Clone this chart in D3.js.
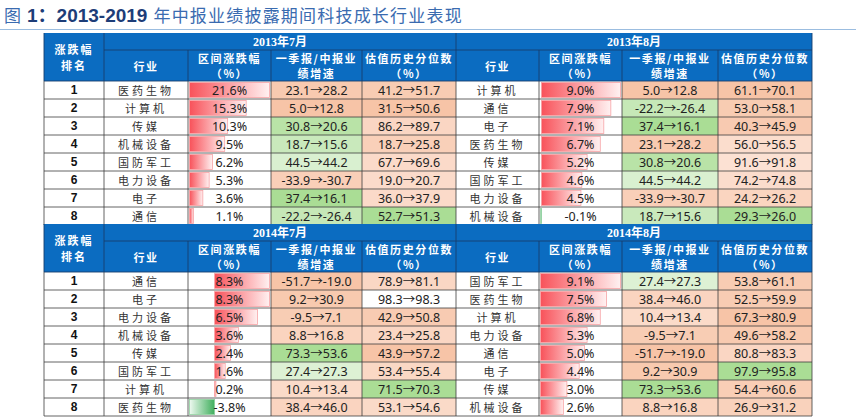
<!DOCTYPE html>
<html>
<head>
<meta charset="utf-8">
<script src="https://cdn.jsdelivr.net/npm/d3@7"></script>
<style>
body{margin:0;background:#fff;}
svg{display:block;}
</style>
</head>
<body>
<div id="chart"></div>
<script>
// ---- data ----
const ranks = [1, 2, 3, 4, 5, 6, 7, 8];
const periods = ['2013年7月', '2013年8月', '2014年7月', '2014年8月'];
const columnTitles = [['行业'], ['区间涨跌幅', '（%）'], ['一季报/中报业', '绩增速'], ['估值历史分位数', '（%）']];
const rankTitle = ['涨跌幅', '排名'];

const industries_1307 = ['医药生物', '计算机', '传媒', '机械设备', '国防军工', '电力设备', '电子', '通信'];
const change_1307 = [21.6, 15.3, 10.3, 9.5, 6.2, 5.3, 3.6, 1.1];
const growth_1307 = [[23.1, 28.2], [5.0, 12.8], [30.8, 20.6], [18.7, 15.6], [44.5, 44.2], [-33.9, -30.7], [37.4, 16.1], [-22.2, -26.4]];
const valuation_1307 = [[41.2, 51.7], [31.5, 50.6], [86.2, 89.7], [18.7, 25.8], [67.7, 69.6], [19.0, 20.7], [36.0, 37.9], [52.7, 51.3]];

const industries_1308 = ['计算机', '通信', '电子', '医药生物', '传媒', '国防军工', '电力设备', '机械设备'];
const change_1308 = [9.0, 7.9, 7.1, 6.7, 5.2, 4.6, 4.5, -0.1];
const growth_1308 = [[5.0, 12.8], [-22.2, -26.4], [37.4, 16.1], [23.1, 28.2], [30.8, 20.6], [44.5, 44.2], [-33.9, -30.7], [18.7, 15.6]];
const valuation_1308 = [[61.1, 70.1], [53.0, 58.1], [40.3, 45.9], [56.0, 56.5], [91.6, 91.8], [74.2, 74.8], [24.2, 26.2], [29.3, 26.0]];

const industries_1407 = ['通信', '电子', '电力设备', '机械设备', '传媒', '国防军工', '计算机', '医药生物'];
const change_1407 = [8.3, 8.3, 6.5, 3.6, 2.4, 1.6, 0.2, -3.8];
const growth_1407 = [[-51.7, -19.0], [9.2, 30.9], [-9.5, 7.1], [8.8, 16.8], [73.3, 53.6], [27.4, 27.3], [10.4, 13.4], [38.4, 46.0]];
const valuation_1407 = [[78.9, 81.1], [98.3, 98.3], [42.9, 50.8], [23.4, 25.8], [43.9, 57.2], [53.4, 55.4], [71.5, 70.3], [53.1, 54.6]];

const industries_1408 = ['国防军工', '医药生物', '计算机', '电力设备', '通信', '电子', '传媒', '机械设备'];
const change_1408 = [9.1, 7.5, 6.8, 5.3, 5.0, 4.4, 3.0, 2.6];
const growth_1408 = [[27.4, 27.3], [38.4, 46.0], [10.4, 13.4], [-9.5, 7.1], [-51.7, -19.0], [9.2, 30.9], [73.3, 53.6], [8.8, 16.8]];
const valuation_1408 = [[53.8, 61.1], [52.5, 59.9], [67.3, 80.9], [49.6, 58.2], [80.8, 83.3], [97.9, 95.8], [54.4, 60.6], [26.9, 31.2]];

const panels = [
	{period: periods[0], industries: industries_1307, change: change_1307, growth: growth_1307, valuation: valuation_1307},
	{period: periods[1], industries: industries_1308, change: change_1308, growth: growth_1308, valuation: valuation_1308},
	{period: periods[2], industries: industries_1407, change: change_1407, growth: growth_1407, valuation: valuation_1407},
	{period: periods[3], industries: industries_1408, change: change_1408, growth: growth_1408, valuation: valuation_1408}
];

// ---- layout ----
const W = 864, H = 418;
const edges = [44, 104, 188, 271, 362, 456, 539, 622, 718, 812];
const sectionTop = [33, 224];
const periodH = 17, headH = 31, rowH = 18;
const BLUE = '#0b6cc1';
const CJK = "'Noto Sans CJK SC','Noto Sans',sans-serif";
const NUM = "'Noto Sans','Noto Sans CJK SC',sans-serif";

const svg = d3.select('#chart').append('svg')
	.attr('width', W)
	.attr('height', H);

//gradients for data bars
const defs = svg.append('defs');
const gPos = defs.append('linearGradient').attr('id', 'barPos');
gPos.append('stop').attr('offset', '0%').attr('stop-color', '#f8525a');
gPos.append('stop').attr('offset', '100%').attr('stop-color', '#fff1f1');
const gNeg = defs.append('linearGradient').attr('id', 'barNeg');
gNeg.append('stop').attr('offset', '0%').attr('stop-color', '#eef9f0');
gNeg.append('stop').attr('offset', '100%').attr('stop-color', '#3fae5c');

//title
const title = svg.append('text')
	.attr('x', 4)
	.attr('y', 22)
	.style('font-family', CJK)
	.style('font-size', '17px');
title.append('tspan').text('图').attr('fill', '#3a6bb0');
title.append('tspan').text('1：2013-2019').attr('dx', 6).attr('fill', '#1d3d78').style('font-weight', 'bold')
	.style('font-family', "'Liberation Sans','Noto Sans CJK SC',sans-serif").style('font-size', '19px');
title.append('tspan').text('年中报业绩披露期间科技成长行业表现').attr('dx', 6).attr('fill', '#3a6bb0')
	.style('letter-spacing', '1.2px');

svg.append('line')
	.attr('x1', 0).attr('x2', 856)
	.attr('y1', 29.5).attr('y2', 29.5)
	.attr('stroke', '#9bbde0')
	.attr('stroke-width', 1.2);

const fmt = v => v.toFixed(1);

function fillScale(pairs){
	const diffs = pairs.map(p => p[1] - p[0]);
	const maxPos = d3.max(diffs.filter(d => d > 0)) || 1;
	const maxNeg = d3.max(diffs.filter(d => d < 0).map(d => -d)) || 1;
	const pos = d3.scalePow().exponent(0.4).domain([0, maxPos]).range(['#fde9df', '#f7c4a7']).clamp(true);
	const neg = d3.scalePow().exponent(0.4).domain([0, maxNeg]).range(['#e4f4dd', '#aadd95']).clamp(true);
	return d => d > 0 ? pos(d) : d < 0 ? neg(-d) : '#ffffff';
}

sectionTop.forEach((top, s) => {
	const headBottom = top + periodH + headH;
	const y = d3.scaleBand().domain(ranks).range([headBottom, headBottom + rowH * ranks.length]);
	const sec = svg.append('g').attr('class', 'section');

	//rank column header
	sec.append('rect')
		.attr('x', edges[0]).attr('y', top)
		.attr('width', edges[1] - edges[0]).attr('height', periodH + headH)
		.attr('fill', BLUE);
	sec.selectAll('.rankTitle')
		.data(rankTitle)
		.enter().append('text')
		.attr('class', 'rankTitle')
		.attr('x', (edges[0] + edges[1]) / 2)
		.attr('y', (d, i) => top + (periodH + headH) / 2 + (i - 0.5) * 16)
		.attr('text-anchor', 'middle')
		.attr('dominant-baseline', 'central')
		.attr('fill', '#fff')
		.style('font-family', CJK).style('font-size', '11px').style('font-weight', 'bold')
		.style('letter-spacing', '2px')
		.text(d => d);

	//rank cells
	sec.selectAll('.rank')
		.data(ranks)
		.enter().append('text')
		.attr('class', 'rank')
		.attr('x', (edges[0] + edges[1]) / 2)
		.attr('y', d => y(d) + rowH / 2)
		.attr('text-anchor', 'middle')
		.attr('dominant-baseline', 'central')
		.attr('fill', '#111')
		.style('font-family', "'Liberation Sans',sans-serif").style('font-size', '12px').style('font-weight', 'bold')
		.text(d => d);

	[0, 1].forEach(b => {
		const p = panels[s * 2 + b];
		const cx = edges.slice(1 + b * 4, 6 + b * 4);
		const g = sec.append('g');

		//period row
		g.append('rect')
			.attr('x', cx[0]).attr('y', top)
			.attr('width', cx[4] - cx[0]).attr('height', periodH + headH)
			.attr('fill', BLUE);
		g.append('text')
			.attr('x', (cx[0] + cx[4]) / 2)
			.attr('y', top + periodH / 2 + 0.5)
			.attr('text-anchor', 'middle')
			.attr('dominant-baseline', 'central')
			.attr('fill', '#fff')
			.style('font-family', "'Liberation Serif','Noto Sans CJK SC',serif")
			.style('font-size', '12px').style('font-weight', 'bold')
			.text(p.period);

		//column titles
		columnTitles.forEach((lines, c) => {
			g.selectAll(null)
				.data(lines)
				.enter().append('text')
				.attr('x', (cx[c] + cx[c + 1]) / 2)
				.attr('y', (d, i) => top + periodH + headH / 2 + (i - (lines.length - 1) / 2) * 15)
				.attr('text-anchor', 'middle')
				.attr('dominant-baseline', 'central')
				.attr('fill', '#fff')
				.style('font-family', CJK).style('font-size', '11px').style('font-weight', 'bold')
				.style('letter-spacing', '1.6px')
				.text(d => d);
		});

		//industry names
		g.selectAll('.ind')
			.data(p.industries)
			.enter().append('text')
			.attr('class', 'ind')
			.attr('x', (cx[0] + cx[1]) / 2)
			.attr('y', (d, i) => y(ranks[i]) + rowH / 2)
			.attr('text-anchor', 'middle')
			.attr('dominant-baseline', 'central')
			.attr('fill', '#333')
			.style('font-family', CJK).style('font-size', '11px')
			.style('letter-spacing', '3px')
			.text(d => d);

		//data bars
		const x = d3.scaleLinear()
			.domain([Math.min(0, d3.min(p.change)), d3.max(p.change)])
			.range([cx[1] + 1.5, cx[2] - 1.5]);
		g.selectAll('.bar')
			.data(p.change)
			.enter().append('rect')
			.attr('class', 'bar')
			.attr('x', d => Math.min(x(0), x(d)))
			.attr('y', (d, i) => y(ranks[i]) + 1.5)
			.attr('width', d => Math.abs(x(d) - x(0)))
			.attr('height', rowH - 3)
			.attr('fill', d => d >= 0 ? 'url(#barPos)' : 'url(#barNeg)')
			.attr('stroke', d => d >= 0 ? '#f7a3a6' : '#8fd09f')
			.attr('stroke-width', 0.8);
		g.selectAll('.chg')
			.data(p.change)
			.enter().append('text')
			.attr('class', 'chg')
			.attr('x', (cx[1] + cx[2]) / 2)
			.attr('y', (d, i) => y(ranks[i]) + rowH / 2 + 0.5)
			.attr('text-anchor', 'middle')
			.attr('dominant-baseline', 'central')
			.attr('fill', '#222')
			.style('font-family', NUM).style('font-size', '12.5px')
			.text(d => fmt(d) + '%');

		//growth and valuation cells
		[p.growth, p.valuation].forEach((pairs, k) => {
			const color = fillScale(pairs);
			const x0 = cx[2 + k], x1 = cx[3 + k];
			g.selectAll(null)
				.data(pairs)
				.enter().append('rect')
				.attr('x', x0)
				.attr('y', (d, i) => y(ranks[i]))
				.attr('width', x1 - x0)
				.attr('height', rowH)
				.attr('fill', d => color(d[1] - d[0]));
			g.selectAll(null)
				.data(pairs)
				.enter().append('text')
				.attr('x', (x0 + x1) / 2)
				.attr('y', (d, i) => y(ranks[i]) + rowH / 2 + 0.5)
				.attr('text-anchor', 'middle')
				.attr('dominant-baseline', 'central')
				.attr('fill', '#222')
				.style('font-family', NUM).style('font-size', '12.5px')
				.text(d => fmt(d[0]) + '→' + fmt(d[1]));
		});
	});

	//grid lines: body
	const bodyTop = headBottom, bodyBottom = headBottom + rowH * ranks.length;
	sec.selectAll('.hline')
		.data(ranks)
		.enter().append('line')
		.attr('x1', edges[0]).attr('x2', edges[edges.length - 1])
		.attr('y1', d => y(d) + rowH).attr('y2', d => y(d) + rowH)
		.attr('stroke', '#3c3c3c').attr('stroke-width', 0.8);
	sec.selectAll('.vline')
		.data(edges)
		.enter().append('line')
		.attr('x1', d => d).attr('x2', d => d)
		.attr('y1', bodyTop).attr('y2', bodyBottom)
		.attr('stroke', '#3c3c3c').attr('stroke-width', 0.8);
	//grid lines: header
	sec.selectAll('.hvline')
		.data(edges)
		.enter().append('line')
		.attr('x1', d => d).attr('x2', d => d)
		.attr('y1', (d, i) => (i === 0 || i === 1 || i === 5 || i === 9) ? top : top + periodH)
		.attr('y2', bodyTop)
		.attr('stroke', '#173f6e').attr('stroke-width', 0.9);
	sec.append('line')
		.attr('x1', edges[1]).attr('x2', edges[9])
		.attr('y1', top + periodH).attr('y2', top + periodH)
		.attr('stroke', '#173f6e').attr('stroke-width', 0.9);
	sec.append('line')
		.attr('x1', edges[0]).attr('x2', edges[9])
		.attr('y1', bodyTop).attr('y2', bodyTop)
		.attr('stroke', '#173f6e').attr('stroke-width', 0.9);
});
</script>
</body>
</html>
